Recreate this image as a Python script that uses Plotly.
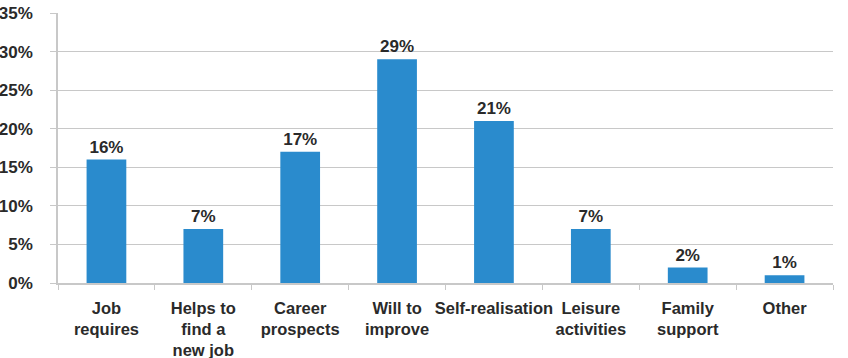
import plotly.graph_objects as go

categories = ["Job<br>requires", "Helps to<br>find a<br>new job", "Career<br>prospects", "Will to<br>improve",
              "Self-realisation", "Leisure<br>activities", "Family<br>support", "Other"]
values = [16, 7, 17, 29, 21, 7, 2, 1]
value_labels = [f"{v}%" for v in values]
y_ticks = [0, 5, 10, 15, 20, 25, 30, 35]
y_tick_labels = [f"{t}%" for t in y_ticks]

font_family = "Liberation Sans, Arial, sans-serif"
text_color = "#2a2a2a"
grid_color = "#c8c8c8"

fig = go.Figure(go.Bar(
    x=categories, y=values,
    marker=dict(color="#2a8bcd", line=dict(width=0)),
    text=value_labels, textposition="outside", cliponaxis=False,
    textfont=dict(family=font_family, size=17, color=text_color, weight="bold"),
    width=0.41,
))

fig.update_layout(
    width=848, height=358,
    margin=dict(l=58, r=15, t=13, b=75),
    paper_bgcolor="white", plot_bgcolor="white",
    showlegend=False,
    font=dict(family=font_family, size=17, color=text_color, weight="bold"),
    xaxis=dict(
        automargin=False,
        showline=True, linecolor=grid_color, linewidth=1.5,
        ticks="outside", tickson="boundaries", ticklen=5, tickcolor=grid_color,
        showgrid=False, tickangle=0, ticklabelstandoff=9,
        tickfont=dict(family=font_family, size=16.5, color=text_color, weight="bold"),
    ),
    yaxis=dict(
        automargin=False,
        range=[0, 35], tickvals=y_ticks, ticktext=y_tick_labels,
        showline=True, linecolor=grid_color, linewidth=1.5,
        ticks="outside", ticklen=6, tickcolor=grid_color,
        showgrid=True, gridcolor=grid_color, gridwidth=1,
        zeroline=False, ticklabelstandoff=14,
        tickfont=dict(family=font_family, size=17, color=text_color, weight="bold"),
    ),
)

fig.write_html("out.html")
